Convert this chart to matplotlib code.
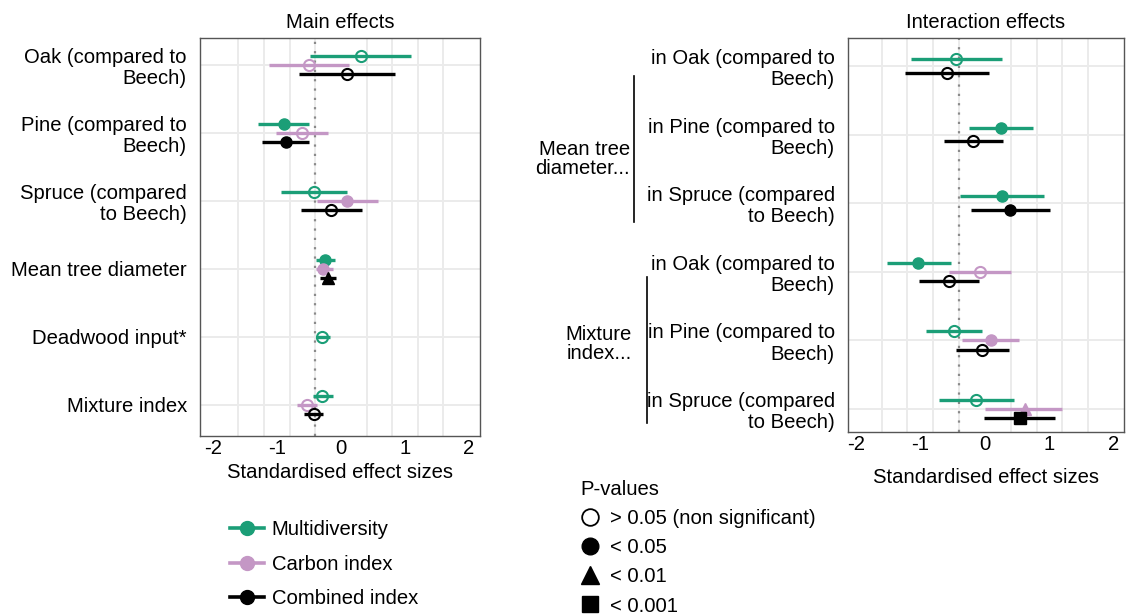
import matplotlib
matplotlib.use("Agg")
import matplotlib.pyplot as plt
from matplotlib.lines import Line2D
import numpy as np

plt.rcParams['font.family'] = ['Liberation Sans', 'DejaVu Sans']
plt.rcParams['axes.unicode_minus'] = False

nan = np.nan

GREEN = "#1b9e77"
PURPLE = "#c497c5"
BLACK = "#000000"
FS = 14.6

series_names = ["Multidiversity", "Carbon index", "Combined index"]
series_colors = [GREEN, PURPLE, BLACK]

# ---- main effects (left panel) ----
main_labels = ["Oak (compared to\nBeech)", "Pine (compared to\nBeech)",
               "Spruce (compared\nto Beech)", "Mean tree diameter",
               "Deadwood input*", "Mixture index"]

main_multi_est = [0.31, -0.89, -0.42, -0.25, -0.29, -0.29]
main_multi_lo = [-0.49, -1.29, -0.93, -0.39, -0.38, -0.43]
main_multi_hi = [1.10, -0.50, 0.09, -0.10, -0.17, -0.12]
main_multi_p = ["ns", "*", "ns", "*", "ns", "ns"]

main_carbon_est = [-0.50, -0.61, 0.10, -0.28, nan, -0.53]
main_carbon_lo = [-1.13, -1.02, -0.37, -0.39, nan, -0.69]
main_carbon_hi = [0.13, -0.21, 0.58, -0.13, nan, -0.38]
main_carbon_p = ["ns", "ns", "*", "*", None, "ns"]

main_comb_est = [0.10, -0.86, -0.15, -0.21, nan, -0.42]
main_comb_lo = [-0.65, -1.24, -0.63, -0.33, nan, -0.57]
main_comb_hi = [0.85, -0.50, 0.33, -0.07, nan, -0.28]
main_comb_p = ["ns", "*", "ns", "**", None, "ns"]

# ---- interaction effects (right panel) ----
int_labels = ["in Oak (compared to\nBeech)", "in Pine (compared to\nBeech)",
              "in Spruce (compared\nto Beech)"] * 2
int_groups = ["Mean tree\ndiameter...", "Mixture\nindex..."]

int_multi_est = [-0.45, 0.25, 0.26, -1.03, -0.48, -0.13]
int_multi_lo = [-1.14, -0.24, -0.39, -1.52, -0.91, -0.71]
int_multi_hi = [0.26, 0.74, 0.91, -0.53, -0.04, 0.45]
int_multi_p = ["ns", "*", "*", "*", "ns", "ns"]

int_carbon_est = [nan, nan, nan, -0.07, 0.09, 0.62]
int_carbon_lo = [nan, nan, nan, -0.55, -0.35, 0.00]
int_carbon_hi = [nan, nan, nan, 0.41, 0.53, 1.19]
int_carbon_p = [None, None, None, "ns", "*", "**"]

int_comb_est = [-0.59, -0.18, 0.39, -0.55, -0.04, 0.54]
int_comb_lo = [-1.24, -0.63, -0.22, -1.02, -0.45, -0.01]
int_comb_hi = [0.06, 0.28, 1.01, -0.09, 0.38, 1.08]
int_comb_p = ["ns", "ns", "*", "ns", "ns", "***"]

p_labels = ["> 0.05 (non significant)", "< 0.05", "< 0.01", "< 0.001"]
p_codes = ["ns", "*", "**", "***"]

MARKERS = {"ns": "o", "*": "o", "**": "^", "***": "s"}
MSIZE = {"ns": 8, "*": 8, "**": 9, "***": 8}

W, H = 1132, 615


def fx(px):
    return px / W


def fy(py):
    return 1 - py / H


def draw_panel(ax, labels, series, xlim, ylim, title):
    n = len(labels)
    rows = np.arange(1, n + 1)
    for i, r in enumerate(rows):
        present = [k for k, s in enumerate(series) if s[3][i] is not None]
        if len(present) == 3:
            offs = [-0.135, 0, 0.135]
        elif len(present) == 2:
            offs = [-0.1, 0.1]
        else:
            offs = [0]
        for k, off in zip(present, offs):
            est, lo, hi, p = series[k]
            col = series_colors[k]
            y = r + off
            ax.hlines(y, lo[i], hi[i], color=col, lw=2.4, zorder=3)
            if p[i] == "ns":
                ax.plot(est[i], y, marker="o", ms=MSIZE["ns"], mfc="none",
                        mec=col, mew=1.5, zorder=4)
            else:
                ax.plot(est[i], y, marker=MARKERS[p[i]], ms=MSIZE[p[i]],
                        color=col, mec=col, zorder=4)

    ax.axvline(-0.4, color="#8a8a8a", lw=1.6, ls=(0, (1, 3.2)), zorder=2)
    ax.set_xlim(*xlim)
    ax.set_ylim(*ylim)
    ax.set_xticks([-2, -1, 0, 1, 2])
    ax.set_xticks(np.arange(-2, 2.01, 0.4), minor=True)
    ax.set_yticks(rows)
    ax.set_yticklabels(labels, fontsize=FS, linespacing=1.15)
    ax.tick_params(axis="both", which="both", length=0)
    ax.tick_params(axis="x", labelsize=FS, pad=2.5, colors="black")
    ax.tick_params(axis="y", pad=9.5, colors="black")
    ax.grid(which="minor", axis="x", color="#ebebeb", lw=1.4, zorder=0)
    ax.grid(which="major", axis="y", color="#ebebeb", lw=1.4, zorder=0)
    ax.set_axisbelow(True)
    for sp in ax.spines.values():
        sp.set_color("#555555")
        sp.set_linewidth(1.0)
    ax.set_title(title, fontsize=14.5, pad=7)


fig = plt.figure(figsize=(W / 100, H / 100), dpi=100)

ax1 = fig.add_axes([fx(200), fy(436), fx(280), 398 / H])
main_series = [
    (main_multi_est, main_multi_lo, main_multi_hi, main_multi_p),
    (main_carbon_est, main_carbon_lo, main_carbon_hi, main_carbon_p),
    (main_comb_est, main_comb_lo, main_comb_hi, main_comb_p),
]
draw_panel(ax1, main_labels, main_series, (-2.2, 2.17), (6.456, 0.603),
           "Main effects")
ax1.set_xlabel("Standardised effect sizes", fontsize=FS, labelpad=3)

ax2 = fig.add_axes([fx(848), fy(432), fx(276), 394 / H])
int_series = [
    (int_multi_est, int_multi_lo, int_multi_hi, int_multi_p),
    (int_carbon_est, int_carbon_lo, int_carbon_hi, int_carbon_p),
    (int_comb_est, int_comb_lo, int_comb_hi, int_comb_p),
]
draw_panel(ax2, int_labels, int_series, (-2.12, 2.155), (6.335, 0.592),
           "Interaction effects")
ax2.set_xlabel("Standardised effect sizes", fontsize=FS, labelpad=10)

# group labels with brackets
fig.text(fx(630), fy(159), int_groups[0], ha="right", va="center",
         fontsize=FS, linespacing=1.05)
fig.add_artist(Line2D([fx(634), fx(634)], [fy(76), fy(222)], color="black",
                      lw=1.2, transform=fig.transFigure))
fig.text(fx(632), fy(344), int_groups[1], ha="right", va="center",
         fontsize=FS, linespacing=1.05)
fig.add_artist(Line2D([fx(647), fx(647)], [fy(277), fy(423)], color="black",
                      lw=1.2, transform=fig.transFigure))

# legend: series colours
h1 = [Line2D([], [], color=c, lw=2.6, marker="o", ms=10)
      for c in series_colors]
fig.legend(h1, series_names, loc="upper left",
           bbox_to_anchor=(fx(230), fy(520)), frameon=False, fontsize=FS,
           borderpad=0, borderaxespad=0, handlelength=1.7,
           handletextpad=0.35, labelspacing=0.77)

# legend: p-values
h2 = []
for code in p_codes:
    if code == "ns":
        h2.append(Line2D([], [], ls="none", marker="o", ms=12, mfc="none",
                         mec="black", mew=1.3))
    else:
        h2.append(Line2D([], [], ls="none", marker=MARKERS[code],
                         ms=13 if code == "**" else 12, color="black"))
fig.legend(h2, p_labels, loc="upper left", title="P-values",
           title_fontsize=FS, bbox_to_anchor=(fx(580), fy(480)),
           frameon=False, fontsize=FS, borderpad=0, borderaxespad=0,
           handlelength=1.0, handletextpad=0.47, labelspacing=0.5,
           alignment="left")

fig.savefig("out.png", dpi=100)
